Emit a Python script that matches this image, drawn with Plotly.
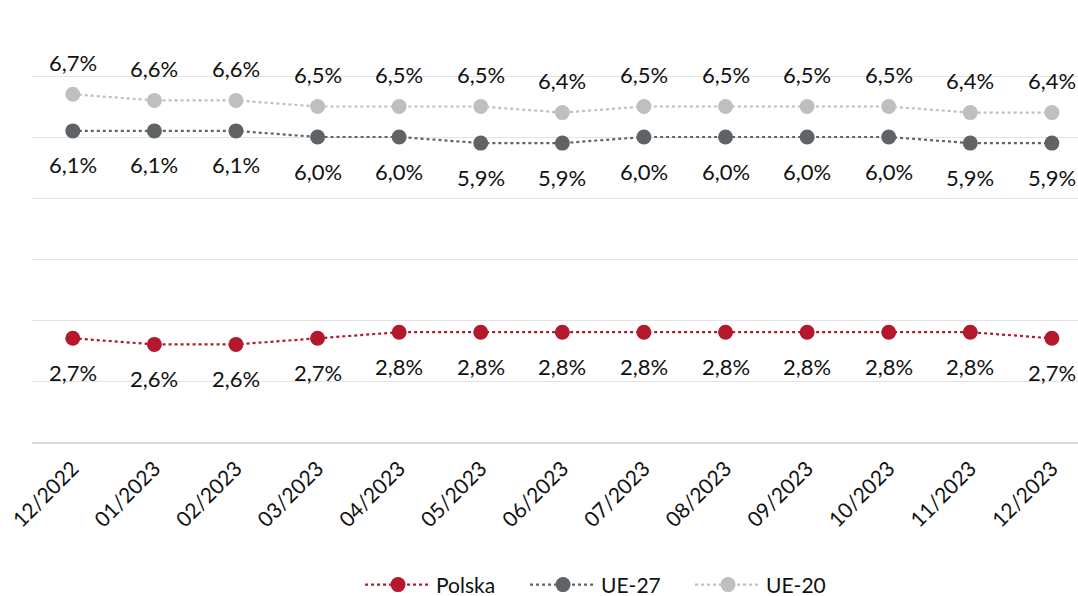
import plotly.graph_objects as go

months = ["12/2022", "01/2023", "02/2023", "03/2023", "04/2023", "05/2023", "06/2023",
          "07/2023", "08/2023", "09/2023", "10/2023", "11/2023", "12/2023"]
polska = [2.7, 2.6, 2.6, 2.7, 2.8, 2.8, 2.8, 2.8, 2.8, 2.8, 2.8, 2.8, 2.7]
ue27 = [6.1, 6.1, 6.1, 6.0, 6.0, 5.9, 5.9, 6.0, 6.0, 6.0, 6.0, 5.9, 5.9]
ue20 = [6.7, 6.6, 6.6, 6.5, 6.5, 6.5, 6.4, 6.5, 6.5, 6.5, 6.5, 6.4, 6.4]

FONT = "Lato"
series = [
    ("Polska", polska, "#B4182D", -34),
    ("UE-27", ue27, "#5F6366", -34),
    ("UE-20", ue20, "#BFBFBF", 32),
]

fig = go.Figure()
idx = list(range(len(months)))
annotations = []
for name, vals, color, shift in series:
    fig.add_trace(go.Scatter(
        x=idx, y=vals, name=name, mode="lines+markers",
        line=dict(color=color, width=2.2, dash="dot"),
        marker=dict(color=color, size=15),
    ))
    for i, v in zip(idx, vals):
        annotations.append(dict(
            x=i, y=v, xref="x", yref="y", text=f"{v:.1f}%".replace(".", ","),
            showarrow=False, yshift=shift,
            font=dict(family=FONT, size=22, color="#111111"),
        ))

fig.update_layout(
    width=1078, height=596,
    margin=dict(l=32, r=0, t=15, b=154),
    paper_bgcolor="white", plot_bgcolor="white",
    showlegend=True,
    legend=dict(orientation="h", x=0.334, xanchor="left", xref="container",
                y=0.0185, yanchor="middle", yref="container",
                font=dict(family=FONT, size=21, color="#111111"),
                itemwidth=66, entrywidth=84, entrywidthmode="pixels"),
    annotations=annotations,
    xaxis=dict(
        tickmode="array", tickvals=idx, ticktext=months, range=[-0.5, 12.32],
        tickangle=-45, tickfont=dict(family=FONT, size=21, color="#111111"),
        showgrid=False, zeroline=False, showline=True, linecolor="#D9D9D9", linewidth=2,
        ticks="", ticklabelstandoff=4, ticklabeloverflow="allow",
    ),
    yaxis=dict(
        range=[1, 8], dtick=1, showticklabels=False, showgrid=True,
        gridcolor="#E3E3E3", gridwidth=1, zeroline=False, showline=False,
    ),
)

fig.write_html(
    "out.html",
    config={"displayModeBar": False},
    post_script="document.body.style.margin='0';document.body.style.overflow='hidden';",
)
